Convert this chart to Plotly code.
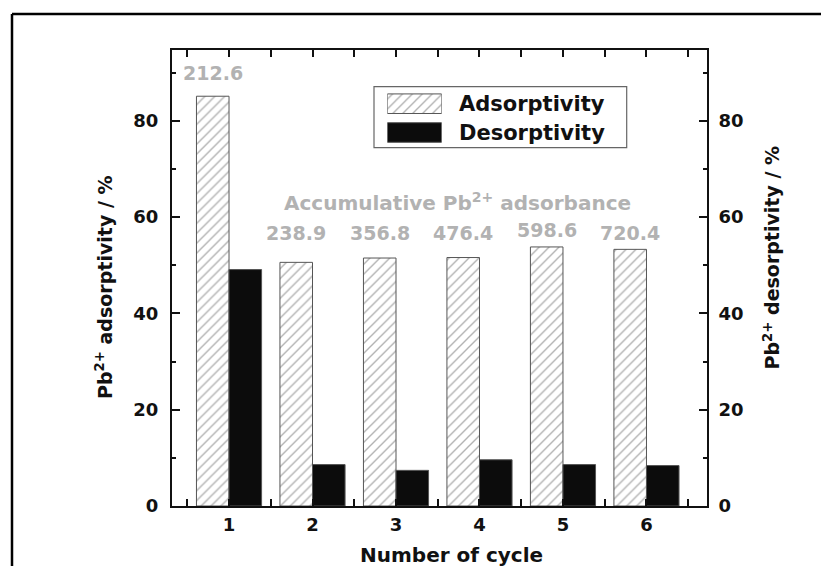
import plotly.graph_objects as go

# ---- data -------------------------------------------------------------
cycles = [1, 2, 3, 4, 5, 6]
adsorptivity = [85.1, 50.6, 51.5, 51.6, 53.8, 53.3]      # Pb2+ adsorptivity, %
desorptivity = [49.1, 8.6, 7.4, 9.6, 8.6, 8.4]           # Pb2+ desorptivity, %
accumulated = ["212.6", "238.9", "356.8", "476.4", "598.6", "720.4"]  # accumulative adsorbance
series_names = ["Adsorptivity", "Desorptivity"]

# ---- layout constants ------------------------------------------------
W, H = 821, 566
ML, MR, MT, MB = 172, 114, 50, 60
PW, PH = W - ML - MR, H - MT - MB
FONT = "DejaVu Sans"
GREY_TXT = "#b2b2b2"
BAR_W = 0.39
Y_RANGE = [0, 94.7]
X_RANGE = [0.317, 6.725]
label_y = [89.9, 56.7, 56.7, 56.7, 57.3, 56.7]


def px(x):
    return (x - ML) / PW


def py(y):
    return 1 - (y - MT) / PH


hatch = dict(shape="/", fgcolor="#666666", bgcolor="white", size=7, solidity=0.2)
bar_line = dict(color="#555555", width=1)

fig = go.Figure()

fig.add_trace(go.Bar(
    x=cycles, y=adsorptivity, name=series_names[0],
    offset=-BAR_W, width=BAR_W, base=0,
    marker=dict(color="white", pattern=hatch, line=bar_line),
    xaxis="x", yaxis="y", showlegend=False,
))
fig.add_trace(go.Bar(
    x=cycles, y=desorptivity, name=series_names[1],
    offset=0, width=BAR_W, base=0,
    marker=dict(color="#0c0c0c", line=bar_line),
    xaxis="x", yaxis="y2", showlegend=False,
))

# legend keys drawn in a small inset axis
fig.add_trace(go.Bar(
    x=[1], y=[0], orientation="h", width=0.68, base=0,
    marker=dict(color="white", pattern=hatch, line=bar_line),
    xaxis="x3", yaxis="y3", showlegend=False, hoverinfo="skip",
))
fig.add_trace(go.Bar(
    x=[1], y=[1], orientation="h", width=0.68, base=0,
    marker=dict(color="#0c0c0c", line=bar_line),
    xaxis="x3", yaxis="y3", showlegend=False, hoverinfo="skip",
))

tickfont = dict(family=FONT, size=18, color="#111", weight="bold")
axis_common = dict(
    showline=True, linecolor="#111", linewidth=2,
    ticks="inside", tickcolor="#111", tickwidth=2,
    showgrid=False, zeroline=False, tickfont=tickfont,
)

half_steps = [c - 0.5 for c in cycles] + [cycles[-1] + 0.5]

fig.update_layout(
    width=W, height=H,
    margin=dict(l=ML, r=MR, t=MT, b=MB),
    paper_bgcolor="white", plot_bgcolor="white",
    barmode="overlay",
    xaxis=dict(
        **axis_common, range=X_RANGE, tickmode="array", tickvals=cycles,
        ticklen=7, mirror="allticks", ticklabelstandoff=1,
        minor=dict(tickmode="array", tickvals=half_steps, ticklen=4,
                   ticks="inside", tickcolor="#111", tickwidth=2, showgrid=False),
    ),
    yaxis=dict(
        **axis_common, range=Y_RANGE, dtick=20, tick0=0, ticklen=8,
        ticklabelstandoff=8,
        minor=dict(dtick=10, tick0=0, ticklen=4, ticks="inside",
                   tickcolor="#111", tickwidth=2, showgrid=False),
    ),
    yaxis2=dict(
        **axis_common, range=Y_RANGE, dtick=20, tick0=0, ticklen=8,
        overlaying="y", side="right", anchor="x", ticklabelstandoff=6,
        minor=dict(dtick=10, tick0=0, ticklen=4, ticks="inside",
                   tickcolor="#111", tickwidth=2, showgrid=False),
    ),
    xaxis3=dict(domain=[px(387.3), px(441.7)], range=[0, 1], anchor="y3",
                visible=False, fixedrange=True),
    yaxis3=dict(domain=[py(146.9), py(89.3)], range=[1.5, -0.5], anchor="x3",
                visible=False, fixedrange=True),
)

annotations = []

# value labels above the adsorptivity bars
for c, txt, yv in zip(cycles, accumulated, label_y):
    annotations.append(dict(
        x=c - BAR_W / 2, y=yv, xref="x", yref="y", text=txt, showarrow=False,
        xanchor="center", yanchor="middle",
        font=dict(family=FONT, size=19, color=GREY_TXT, weight="bold"),
    ))

annotations.append(dict(
    x=px(457.5), y=py(201.7), xref="paper", yref="paper",
    text="Accumulative Pb<sup>2+</sup> adsorbance", showarrow=False,
    xanchor="center", yanchor="middle",
    font=dict(family=FONT, size=20, color=GREY_TXT, weight="bold"),
))

# legend labels
for name, yc in zip(series_names, [103.7, 132.5]):
    annotations.append(dict(
        x=px(456.7), y=py(yc), xref="paper", yref="paper", text=name,
        showarrow=False, xanchor="left", yanchor="middle",
        font=dict(family=FONT, size=21, color="#111", weight="bold"),
    ))

# axis titles
annotations.append(dict(
    x=px(451), y=py(555), xref="paper", yref="paper", text="Number of cycle",
    showarrow=False, xanchor="center", yanchor="middle",
    font=dict(family=FONT, size=20, color="#111", weight="bold"),
))
annotations.append(dict(
    x=px(104), y=py(288), xref="paper", yref="paper",
    text="Pb<sup>2+</sup> adsorptivity / %", textangle=-90,
    showarrow=False, xanchor="center", yanchor="middle",
    font=dict(family=FONT, size=19, color="#111", weight="bold"),
))
annotations.append(dict(
    x=px(771), y=py(257.5), xref="paper", yref="paper",
    text="Pb<sup>2+</sup> desorptivity / %", textangle=-90,
    showarrow=False, xanchor="center", yanchor="middle",
    font=dict(family=FONT, size=19, color="#111", weight="bold"),
))

fig.update_layout(annotations=annotations)

shapes = [
    # legend frame
    dict(type="rect", xref="paper", yref="paper",
         x0=px(374), x1=px(626.7), y0=py(147.7), y1=py(86.7),
         line=dict(color="#666", width=1.2), fillcolor="rgba(0,0,0,0)", layer="below"),
    # outer figure frame (top and left edges)
    dict(type="line", xref="paper", yref="paper",
         x0=px(12), x1=px(830), y0=py(14), y1=py(14),
         line=dict(color="#000", width=2.5)),
    dict(type="line", xref="paper", yref="paper",
         x0=px(12), x1=px(12), y0=py(14), y1=py(580),
         line=dict(color="#000", width=2.5)),
]
fig.update_layout(shapes=shapes)

fig.write_html("out.html")
